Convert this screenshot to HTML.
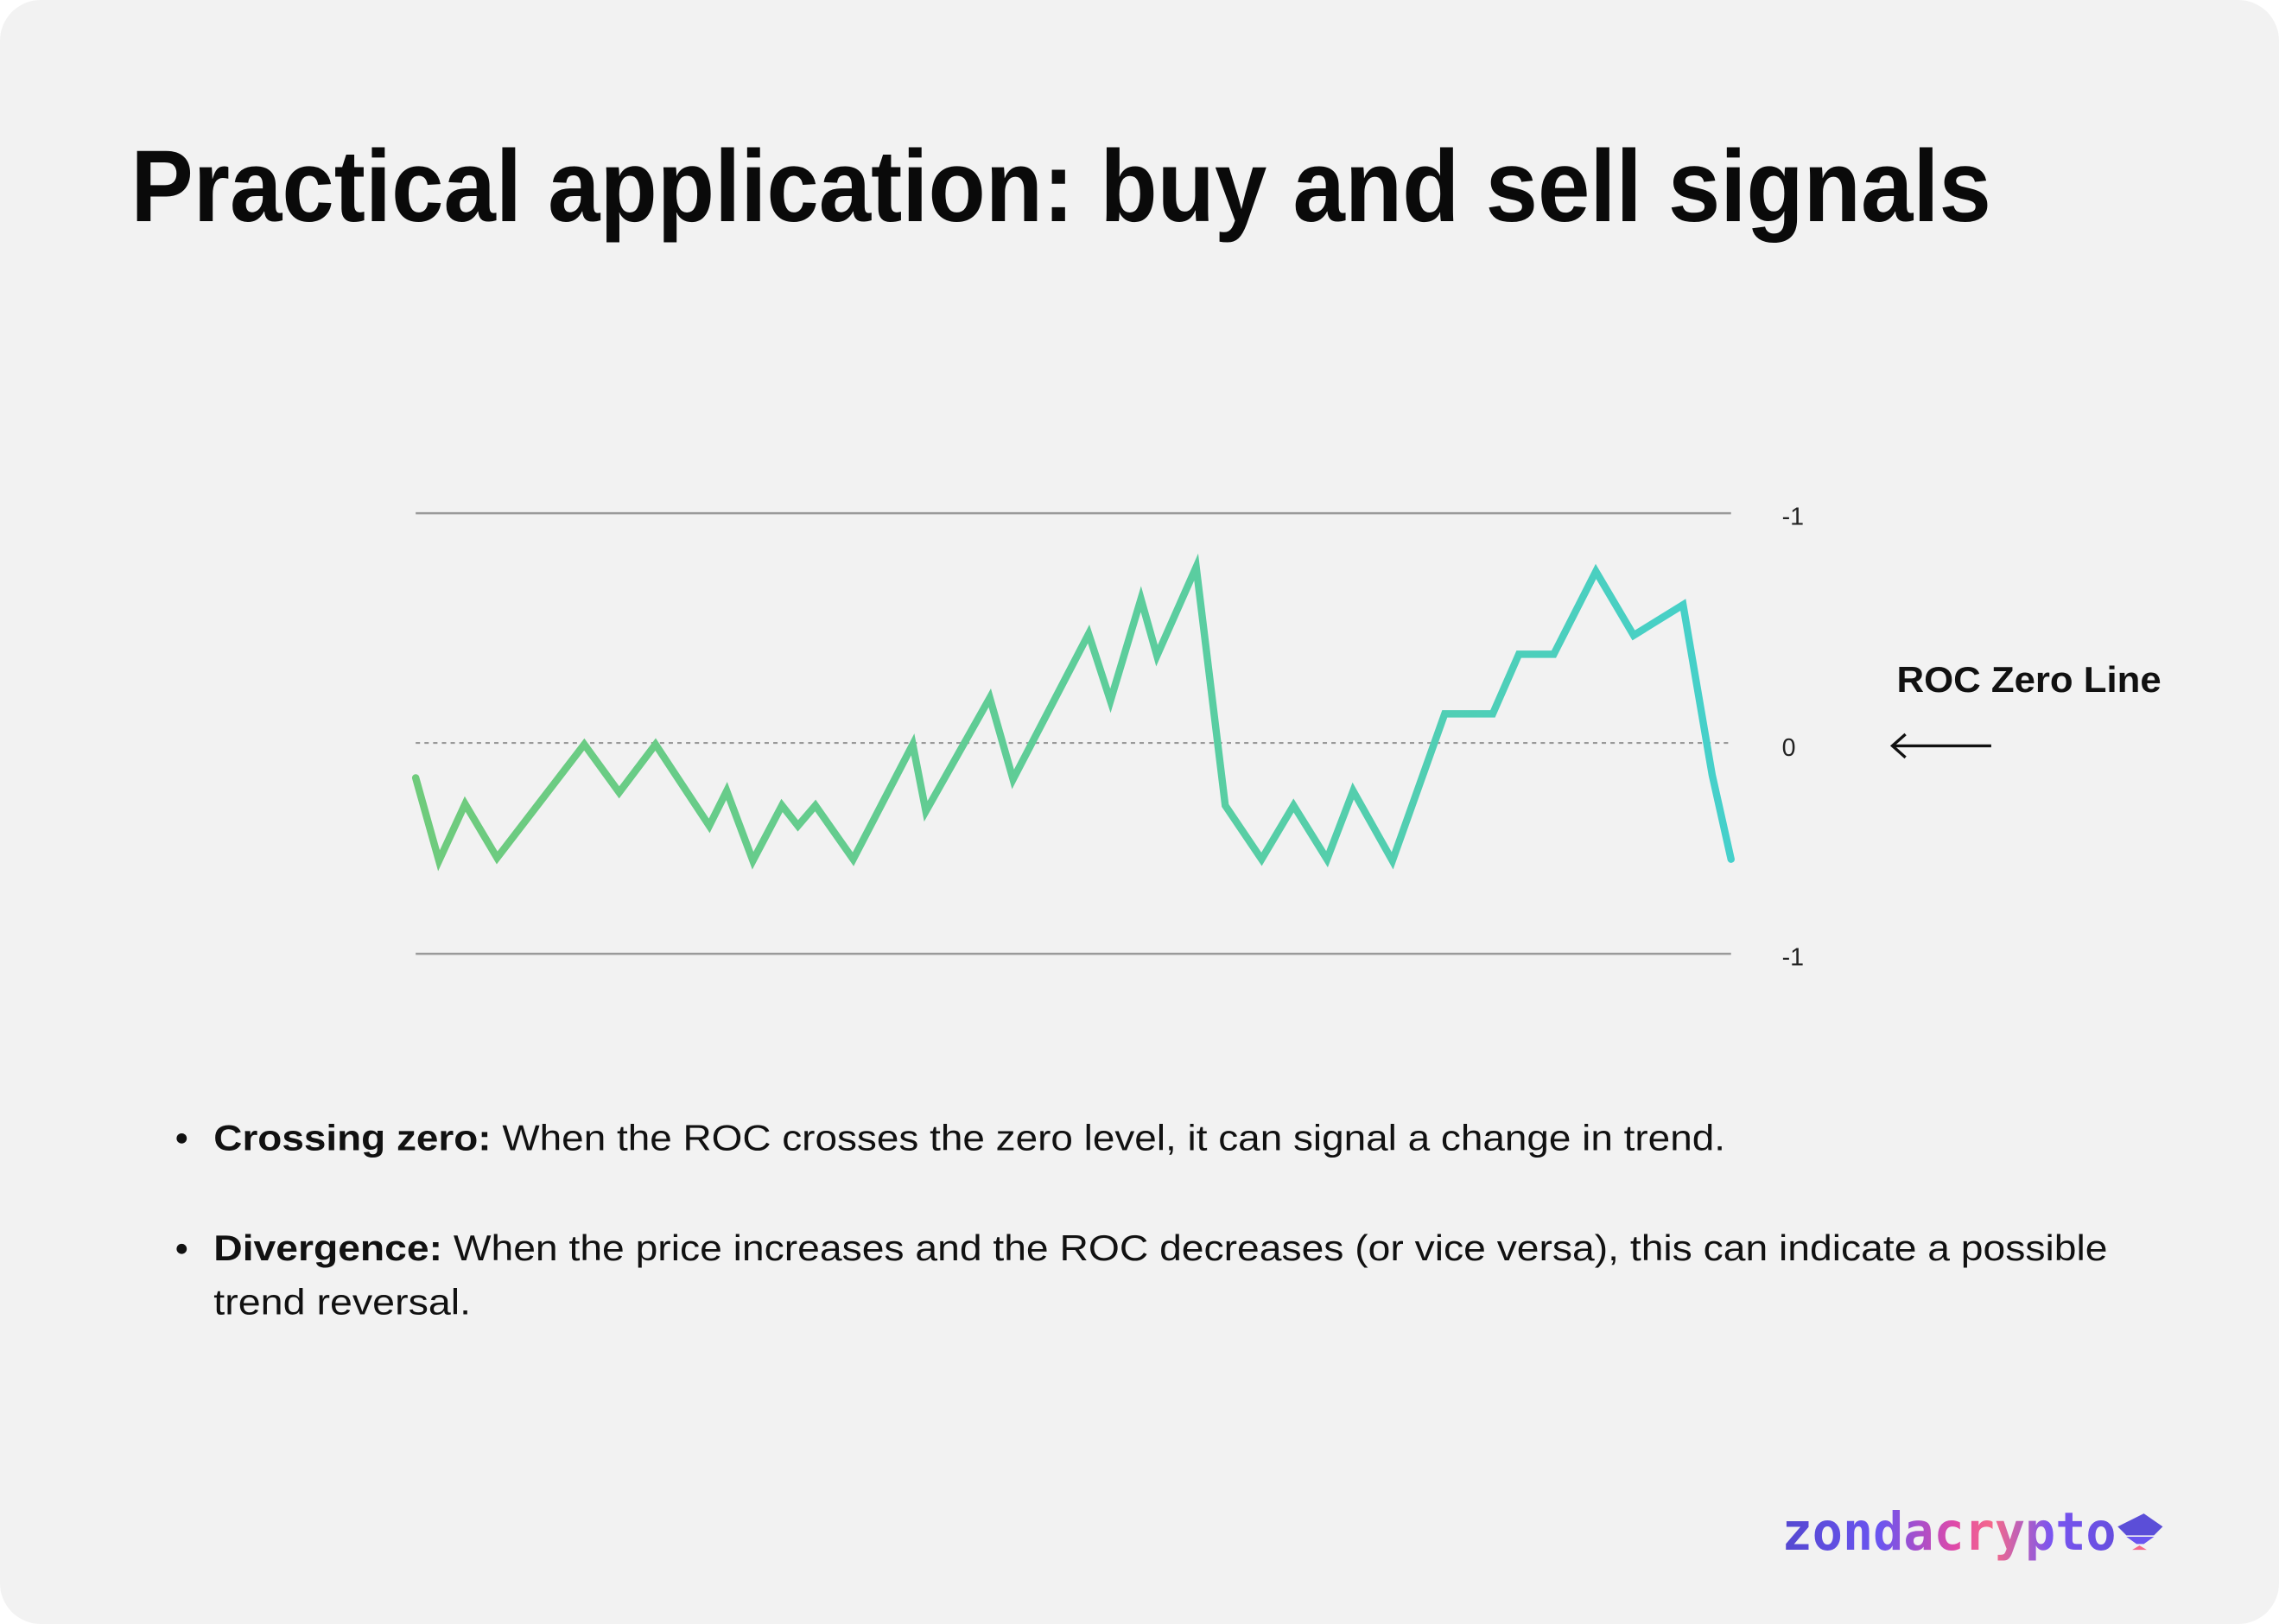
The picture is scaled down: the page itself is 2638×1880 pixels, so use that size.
<!DOCTYPE html>
<html><head><meta charset="utf-8"><style>
html,body{margin:0;padding:0;background:#fff;}
svg{display:block;}
</style></head><body>
<svg width="2638" height="1880" viewBox="0 0 1568 1117" preserveAspectRatio="none" xmlns="http://www.w3.org/2000/svg">
<defs>
<linearGradient id="g" x1="286" y1="0" x2="1191" y2="0" gradientUnits="userSpaceOnUse">
<stop offset="0" stop-color="#6fcb7c"/><stop offset="0.55" stop-color="#5ccd9c"/><stop offset="1" stop-color="#45d0cb"/>
</linearGradient>
<linearGradient id="lg" x1="1227" y1="0" x2="1490" y2="0" gradientUnits="userSpaceOnUse">
<stop offset="0" stop-color="#5548d0"/><stop offset="0.25" stop-color="#6a55f0"/><stop offset="0.45" stop-color="#e04aa8"/><stop offset="0.55" stop-color="#f56a8a"/><stop offset="0.7" stop-color="#7a55f0"/><stop offset="1" stop-color="#5548d0"/>
</linearGradient>
</defs>
<rect x="0" y="0" width="1568" height="1117" rx="28" fill="#f2f2f2"/>
<text x="90" y="152" font-family="Liberation Sans, sans-serif" font-weight="bold" font-size="70" fill="#0a0a0a" textLength="1280" lengthAdjust="spacingAndGlyphs">Practical application: buy and sell signals</text>
<line x1="286" y1="353" x2="1191" y2="353" stroke="#9a9a9a" stroke-width="1.5"/>
<line x1="286" y1="656" x2="1191" y2="656" stroke="#9a9a9a" stroke-width="1.5"/>
<line x1="286" y1="511" x2="1191" y2="511" stroke="#999" stroke-width="1.3" stroke-dasharray="3,3"/>
<g font-family="Liberation Sans, sans-serif" font-size="17" fill="#222">
<text x="1226" y="361">-1</text><text x="1226" y="520">0</text><text x="1226" y="664">-1</text>
</g>
<text x="1305" y="476" font-family="Liberation Sans, sans-serif" font-weight="bold" font-size="25" fill="#111" textLength="182" lengthAdjust="spacingAndGlyphs">ROC Zero Line</text>
<line x1="1302" y1="513" x2="1370" y2="513" stroke="#111" stroke-width="2"/>
<polyline points="1311,505 1302,513 1311,521" fill="none" stroke="#111" stroke-width="2"/>
<polyline fill="none" stroke="url(#g)" stroke-width="5" stroke-linejoin="miter" stroke-linecap="round" points="286,535 302,592 320,553 342,590 402,512 426,545 451,512 488,568 500,544 518,592 538,554 549,568 561,554 587,591 628,512 637,558 681,480 697,536 749,436 764,482 785,412 796,451 823,390 843,554 868,591 890,554 913,591 931,544 958,592 994,491 1027,491 1045,450 1069,450 1098,393 1124,437 1158,416 1178,533 1191,591"/>
<g font-family="Liberation Sans, sans-serif" font-size="25" fill="#111">
<circle cx="125" cy="783" r="3.5" fill="#111"/>
<text x="147" y="791" textLength="1040" lengthAdjust="spacingAndGlyphs"><tspan font-weight="bold">Crossing zero:</tspan> When the ROC crosses the zero level, it can signal a change in trend.</text>
<circle cx="125" cy="859" r="3.5" fill="#111"/>
<text x="147" y="867" textLength="1303" lengthAdjust="spacingAndGlyphs"><tspan font-weight="bold">Divergence:</tspan> When the price increases and the ROC decreases (or vice versa), this can indicate a possible</text>
<text x="147" y="904" textLength="177" lengthAdjust="spacingAndGlyphs">trend reversal.</text>
</g>
<text x="1226" y="1066" font-family="DejaVu Sans Mono, monospace" font-weight="bold" font-size="36" fill="url(#lg)" textLength="230" lengthAdjust="spacingAndGlyphs">zondacrypto</text>
<polygon points="1475,1041 1488,1050 1482,1056 1463,1056 1457,1050" fill="#5b4ed8"/>
<polygon points="1463,1057 1482,1057 1475,1062 1470,1062" fill="#6a55f0"/>
<polygon points="1472,1063 1477,1066 1467,1066" fill="#f56a8a"/>
</svg>
</body></html>
